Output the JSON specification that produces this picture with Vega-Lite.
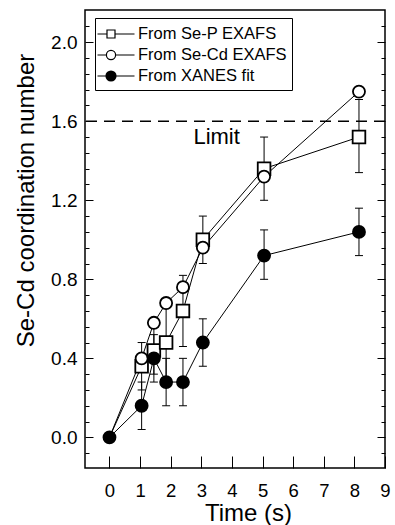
{
  "$schema": "https://vega.github.io/schema/vega-lite/v6.json",
  "width": 300,
  "height": 458,
  "autosize": "none",
  "padding": {"left": 85, "top": 10, "right": 10, "bottom": 57},
  "background": "white",
  "config": {
    "view": {"stroke": "black", "strokeWidth": 1.5},
    "font": "Liberation Sans",
    "axis": {"labelOverlap": false}
  },
  "data": {
    "values": [
      {"series": "From Se-P EXAFS", "t": 0, "v": 0},
      {"series": "From Se-P EXAFS", "t": 1.05, "v": 0.36, "lo": 0.24, "hi": 0.48},
      {"series": "From Se-P EXAFS", "t": 1.45, "v": 0.44, "lo": 0.32, "hi": 0.56},
      {"series": "From Se-P EXAFS", "t": 1.85, "v": 0.48, "lo": 0.30, "hi": 0.66},
      {"series": "From Se-P EXAFS", "t": 2.4, "v": 0.64, "lo": 0.46, "hi": 0.82},
      {"series": "From Se-P EXAFS", "t": 3.05, "v": 1.00, "lo": 0.88, "hi": 1.12},
      {"series": "From Se-P EXAFS", "t": 5.05, "v": 1.36, "lo": 1.20, "hi": 1.52},
      {"series": "From Se-P EXAFS", "t": 8.15, "v": 1.52, "lo": 1.34, "hi": 1.71},
      {"series": "From Se-Cd EXAFS", "t": 0, "v": 0},
      {"series": "From Se-Cd EXAFS", "t": 1.05, "v": 0.40},
      {"series": "From Se-Cd EXAFS", "t": 1.45, "v": 0.58},
      {"series": "From Se-Cd EXAFS", "t": 1.85, "v": 0.68},
      {"series": "From Se-Cd EXAFS", "t": 2.4, "v": 0.76},
      {"series": "From Se-Cd EXAFS", "t": 3.05, "v": 0.96},
      {"series": "From Se-Cd EXAFS", "t": 5.05, "v": 1.32},
      {"series": "From Se-Cd EXAFS", "t": 8.15, "v": 1.75},
      {"series": "From XANES fit", "t": 0, "v": 0},
      {"series": "From XANES fit", "t": 1.05, "v": 0.16, "lo": 0.04, "hi": 0.28},
      {"series": "From XANES fit", "t": 1.45, "v": 0.40, "lo": 0.28, "hi": 0.52},
      {"series": "From XANES fit", "t": 1.85, "v": 0.28, "lo": 0.16, "hi": 0.40},
      {"series": "From XANES fit", "t": 2.4, "v": 0.28, "lo": 0.16, "hi": 0.40},
      {"series": "From XANES fit", "t": 3.05, "v": 0.48, "lo": 0.36, "hi": 0.60},
      {"series": "From XANES fit", "t": 5.05, "v": 0.92, "lo": 0.80, "hi": 1.05},
      {"series": "From XANES fit", "t": 8.15, "v": 1.04, "lo": 0.92, "hi": 1.16}
    ]
  },
  "resolve": {"axis": {"x": "independent", "y": "independent"}, "scale": {"shape": "independent"}},
  "layer": [
    {
      "mark": {"type": "line", "color": "black", "strokeWidth": 1},
      "encoding": {
        "x": {
          "field": "t", "type": "quantitative",
          "scale": {"domain": [-0.8, 9], "nice": false, "zero": false},
          "axis": {
            "values": [0, 1, 2, 3, 4, 5, 6, 7, 8, 9],
            "format": "d",
            "domain": false, "grid": false,
            "labelOverlap": false, "labelFlush": false, "labelBound": false,
            "tickSize": -12, "tickColor": "black", "tickWidth": 1,
            "labelPadding": 25, "labelFontSize": 18.5, "labelColor": "black",
            "labelFont": "Liberation Sans",
            "title": "Time (s)", "titleFont": "Liberation Sans",
            "titleFontSize": 24, "titleFontWeight": "normal", "titleColor": "black",
            "titleX": 163, "titleY": 52, "titleBaseline": "alphabetic", "titleAlign": "center"
          }
        },
        "y": {
          "field": "v", "type": "quantitative",
          "scale": {"domain": [-0.155, 2.163], "nice": false, "zero": false},
          "axis": {
            "orient": "left",
            "values": [-0.08, 0, 0.08, 0.16, 0.24, 0.32, 0.4, 0.48, 0.56, 0.64, 0.72, 0.8, 0.88, 0.96, 1.04, 1.12, 1.2, 1.28, 1.36, 1.44, 1.52, 1.6, 1.68, 1.76, 1.84, 1.92, 2.0, 2.08],
            "domain": false, "grid": false,
            "labelOverlap": false,
            "tickSize": {"condition": {"test": "abs(datum.value/0.4 - round(datum.value/0.4)) < 0.001", "value": -8}, "value": -4},
            "tickColor": "black", "tickWidth": 1,
            "labelExpr": "abs(datum.value/0.4 - round(datum.value/0.4)) < 0.001 ? format(datum.value, '.1f') : ''",
            "labelPadding": 16, "labelFontSize": 19, "labelColor": "black",
            "labelFont": "Liberation Sans",
            "title": "Se-Cd coordination number", "titleFont": "Liberation Sans",
            "titleFontSize": 24, "titleFontWeight": "normal", "titleColor": "black",
            "titleAngle": -90, "titleX": -52, "titleY": 190, "titleBaseline": "alphabetic", "titleAlign": "center"
          }
        },
        "detail": {"field": "series"},
        "order": {"field": "t"}
      }
    },
    {
      "transform": [{"filter": "isValid(datum.lo)"}],
      "mark": {"type": "rule", "color": "black", "strokeWidth": 1},
      "encoding": {
        "x": {"field": "t", "type": "quantitative", "axis": null},
        "y": {"field": "lo", "type": "quantitative", "axis": null},
        "y2": {"field": "hi"}
      }
    },
    {
      "transform": [{"filter": "isValid(datum.lo)"}],
      "mark": {"type": "tick", "orient": "horizontal", "size": 8, "thickness": 1, "color": "black", "opacity": 1},
      "encoding": {
        "x": {"field": "t", "type": "quantitative", "axis": null},
        "y": {"field": "lo", "type": "quantitative", "axis": null}
      }
    },
    {
      "transform": [{"filter": "isValid(datum.hi)"}],
      "mark": {"type": "tick", "orient": "horizontal", "size": 8, "thickness": 1, "color": "black", "opacity": 1},
      "encoding": {
        "x": {"field": "t", "type": "quantitative", "axis": null},
        "y": {"field": "hi", "type": "quantitative", "axis": null}
      }
    },
    {
      "data": {"values": [{"limit": 1.6}]},
      "mark": {"type": "rule", "color": "black", "strokeWidth": 1.5, "strokeDash": [11, 7]},
      "encoding": {
        "y": {"field": "limit", "type": "quantitative", "axis": null}
      }
    },
    {
      "data": {"values": [{"label": "Limit", "lt": 3.5, "lv": 1.52}]},
      "mark": {"type": "text", "font": "Liberation Sans", "fontSize": 22, "color": "black", "align": "center", "baseline": "middle"},
      "encoding": {
        "x": {"field": "lt", "type": "quantitative", "axis": null},
        "y": {"field": "lv", "type": "quantitative", "axis": null},
        "text": {"field": "label"}
      }
    },
    {
      "transform": [{"filter": "datum.t > 0 || datum.series === 'From XANES fit'"}],
      "mark": {"type": "point", "stroke": "black", "strokeWidth": 1.8, "opacity": 1},
      "encoding": {
        "x": {"field": "t", "type": "quantitative", "axis": null},
        "y": {"field": "v", "type": "quantitative", "axis": null},
        "shape": {
          "field": "series", "type": "nominal",
          "scale": {"domain": ["From Se-P EXAFS", "From Se-Cd EXAFS", "From XANES fit"], "range": ["square", "circle", "circle"]},
          "legend": null
        },
        "fill": {"condition": {"test": "datum.series === 'From XANES fit'", "value": "black"}, "value": "white"},
        "size": {"condition": {"test": "datum.series === 'From Se-P EXAFS'", "value": 160}, "value": 145},
        "order": {"field": "t"}
      }
    },
    {
      "mark": {"type": "point", "opacity": 0, "stroke": "black"},
      "encoding": {
        "x": {"field": "t", "type": "quantitative", "axis": null},
        "y": {"field": "v", "type": "quantitative", "axis": null},
        "shape": {
          "field": "series", "type": "nominal",
          "scale": {
            "domain": ["From Se-P EXAFS", "From Se-Cd EXAFS", "From XANES fit"],
            "range": [
              "M-1.35,0H-0.4M0.4,0H2.35M-0.4,-0.4H0.4V0.4H-0.4Z",
              "M-1.35,0H-0.46M0.46,0H2.35M-0.46,0A0.46,0.46,0,1,1,0.46,0A0.46,0.46,0,1,1,-0.46,0Z",
              "M-1.35,0H2.35M-0.5,0A0.5,0.5,0,1,1,0.5,0A0.5,0.5,0,1,1,-0.5,0ZM-0.38,0A0.38,0.38,0,1,1,0.38,0A0.38,0.38,0,1,1,-0.38,0ZM-0.26,0A0.26,0.26,0,1,1,0.26,0A0.26,0.26,0,1,1,-0.26,0ZM-0.14,0A0.14,0.14,0,1,1,0.14,0A0.14,0.14,0,1,1,-0.14,0ZM-0.04,0A0.04,0.04,0,1,1,0.04,0A0.04,0.04,0,1,1,-0.04,0Z"
            ]
          },
          "legend": {
            "orient": "none", "legendX": 10, "legendY": 8,
            "title": null,
            "strokeColor": "black",
            "padding": 5,
            "symbolSize": 400,
            "symbolStrokeWidth": 1.2,
            "symbolOpacity": 1,
            "symbolFillColor": "white",
            "labelFont": "Liberation Sans", "labelFontSize": 16.5, "labelColor": "black",
            "labelOffset": 16, "labelLimit": 300,
            "rowPadding": 1,
            "encode": {
              "symbols": {
                "size": {"value": 400},
                "fill": {"value": "white"},
                "stroke": {"value": "black"},
                "strokeWidth": {"value": 1.2},
                "opacity": {"value": 1},
                "fillOpacity": {"value": 1},
                "strokeOpacity": {"value": 1}
              }
            }
          }
        }
      }
    },
    {
      "mark": {"type": "point", "opacity": 0},
      "encoding": {
        "x": {"field": "t", "type": "quantitative", "axis": null},
        "y": {
          "field": "v", "type": "quantitative",
          "axis": {
            "orient": "right",
            "values": [-0.08, 0, 0.08, 0.16, 0.24, 0.32, 0.4, 0.48, 0.56, 0.64, 0.72, 0.8, 0.88, 0.96, 1.04, 1.12, 1.2, 1.28, 1.36, 1.44, 1.52, 1.6, 1.68, 1.76, 1.84, 1.92, 2.0, 2.08],
            "domain": false, "grid": false, "labels": false, "title": null,
            "tickSize": {"condition": {"test": "abs(datum.value/0.4 - round(datum.value/0.4)) < 0.001", "value": -8}, "value": -4},
            "tickColor": "black", "tickWidth": 1
          }
        }
      }
    }
  ]
}
